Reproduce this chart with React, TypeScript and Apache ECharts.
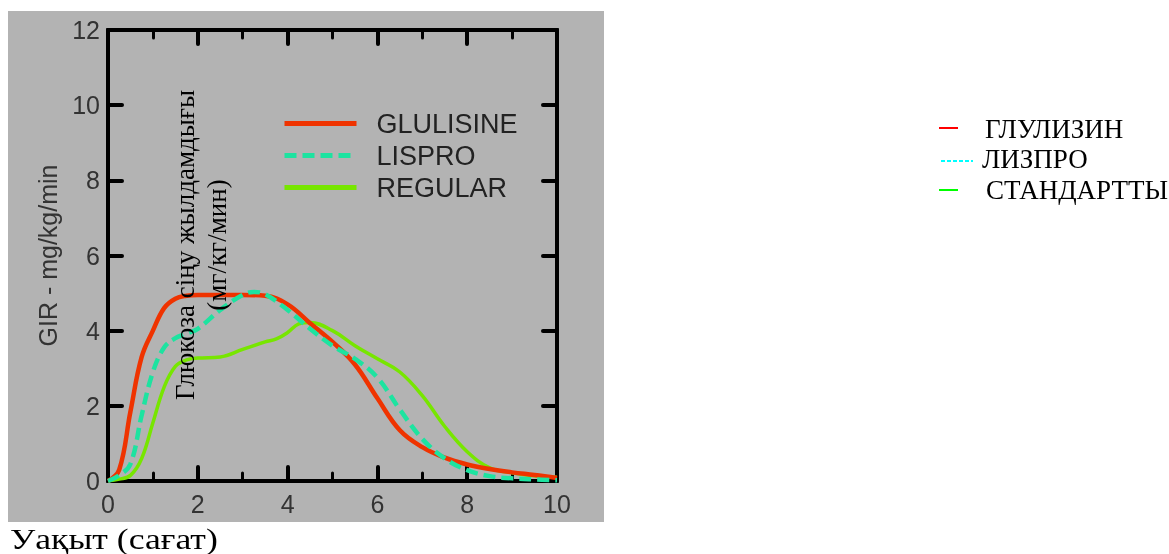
import React, { useEffect, useRef } from "react";
import * as echarts from "echarts";

const seriesNames = ["GLULISINE", "LISPRO", "REGULAR"];
const legendNamesKz = ["ГЛУЛИЗИН", "ЛИЗПРО", "СТАНДАРТТЫ"];
const xTicks = [0, 2, 4, 6, 8, 10];
const yTicks = [0, 2, 4, 6, 8, 10, 12];

const glulisineHours = [0, 0.25, 0.5, 0.75, 1, 1.25, 1.5, 1.75, 2, 2.5, 3, 3.5, 4, 4.5, 5, 5.5, 6, 6.5, 7, 7.5, 8, 8.5, 9, 9.5, 10];
const glulisineGIR = [0, 0.3, 1.85, 3.3, 4.0, 4.6, 4.85, 4.93, 4.95, 4.95, 4.95, 4.93, 4.7, 4.2, 3.7, 3.1, 2.2, 1.35, 0.9, 0.62, 0.44, 0.32, 0.23, 0.16, 0.08];

const lisproHours = [0, 0.25, 0.5, 0.75, 1, 1.25, 1.5, 1.75, 2, 2.5, 3, 3.25, 3.5, 4, 4.5, 5, 5.5, 6, 6.5, 7, 7.5, 8, 8.5, 9, 9.5, 10];
const lisproGIR = [0, 0.15, 0.45, 1.75, 2.9, 3.55, 3.8, 3.92, 4.05, 4.55, 4.95, 5.03, 4.97, 4.55, 4.05, 3.6, 3.25, 2.75, 1.9, 1.12, 0.6, 0.29, 0.13, 0.07, 0.04, 0.02];

const regularHours = [0, 0.25, 0.5, 0.75, 1, 1.25, 1.5, 1.75, 2, 2.5, 3, 3.5, 3.75, 4, 4.25, 4.5, 5, 5.5, 6, 6.5, 7, 7.5, 8, 8.5, 9, 9.5, 10];
const regularGIR = [0, 0.05, 0.15, 0.6, 1.55, 2.5, 3.05, 3.22, 3.27, 3.3, 3.5, 3.7, 3.78, 3.95, 4.18, 4.22, 4.0, 3.6, 3.25, 2.9, 2.27, 1.45, 0.78, 0.35, 0.22, 0.14, 0.1];

const yAxisName = "GIR - mg/kg/min";
const overlayLines = ["Глюкоза сіңу жылдамдығы", "(мг/кг/мин)"];
const xAxisTitle = "Уақыт (сағат)";

const pairs = (xs: number[], ys: number[]) => xs.map((x, i) => [x, ys[i]]);

export default function App() {
  const ref = useRef<HTMLDivElement>(null);
  useEffect(() => {
    if (!ref.current) return;
    const chart = echarts.init(ref.current, undefined, { renderer: "svg" });
    const sans = "'Liberation Sans', Arial, sans-serif";
    const serif = "'Liberation Serif', 'Times New Roman', serif";
    const axisCommonX = {
      type: "value",
      min: xTicks[0],
      max: xTicks[xTicks.length - 1],
      interval: 2,
      axisLine: { show: true, onZero: false, lineStyle: { color: "#000", width: 4 } },
      axisTick: { show: true, inside: true, length: 14, lineStyle: { color: "#000", width: 4, cap: "round" } },
      minorTick: { show: true, splitNumber: 2, length: 8, lineStyle: { color: "#000", width: 3, cap: "round" } },
      splitLine: { show: false },
      minorSplitLine: { show: false },
    };
    const axisCommonY = {
      type: "value",
      min: yTicks[0],
      max: yTicks[yTicks.length - 1],
      interval: 2,
      axisLine: { show: true, onZero: false, lineStyle: { color: "#000", width: 4 } },
      axisTick: { show: true, inside: true, length: 14, lineStyle: { color: "#000", width: 4, cap: "round" } },
      splitLine: { show: false },
    };
    const colors = ["#ef3300", "#1de3a0", "#77e600"];
    const legendColorsKz = ["#ff0000", "#00ffff", "#00ff00"];
    const kzLines = [
      { x1: 939, x2: 958, y: 128, dash: null },
      { x1: 941, x2: 973, y: 161, dash: [4, 2] },
      { x1: 939, x2: 958, y: 190, dash: null },
    ];
    const kzText = [
      { x: 985, y: 129 },
      { x: 982, y: 159 },
      { x: 986, y: 190 },
    ];
    chart.setOption({
      animation: false,
      grid: { left: 108, right: 612, top: 30, bottom: 73 },
      xAxis: [
        {
          ...axisCommonX,
          position: "bottom",
          axisLabel: { show: true, fontSize: 25, color: "#333", fontFamily: sans, margin: 10 },
        },
        { ...axisCommonX, position: "top", axisLabel: { show: false } },
      ],
      yAxis: [
        {
          ...axisCommonY,
          position: "left",
          axisLabel: { show: true, fontSize: 25, color: "#333", fontFamily: sans, margin: 8 },
          name: yAxisName,
          nameLocation: "middle",
          nameGap: 48,
          nameTextStyle: { fontSize: 25, color: "#333", fontFamily: sans },
        },
        { ...axisCommonY, position: "right", axisLabel: { show: false } },
      ],
      legend: {
        left: 277,
        top: 105,
        orient: "vertical",
        itemWidth: 72,
        itemHeight: 8,
        itemGap: 5,
        itemStyle: { opacity: 0 },
        lineStyle: { width: 5 },
        textStyle: { fontSize: 27, color: "#222", fontFamily: sans, padding: [0, 0, 0, 15] },
        data: seriesNames,
      },
      series: [
        {
          name: seriesNames[0],
          type: "line",
          data: pairs(glulisineHours, glulisineGIR),
          smooth: 0.4,
          showSymbol: false,
          symbol: "none",
          z: 3,
          lineStyle: { color: colors[0], width: 4.5 },
          itemStyle: { color: colors[0] },
        },
        {
          name: seriesNames[1],
          type: "line",
          data: pairs(lisproHours, lisproGIR),
          smooth: 0.4,
          showSymbol: false,
          symbol: "none",
          z: 4,
          lineStyle: { color: colors[1], width: 4.5, type: [12, 6] },
          itemStyle: { color: colors[1] },
        },
        {
          name: seriesNames[2],
          type: "line",
          data: pairs(regularHours, regularGIR),
          smooth: 0.4,
          showSymbol: false,
          symbol: "none",
          z: 2,
          lineStyle: { color: colors[2], width: 3.5 },
          itemStyle: { color: colors[2] },
        },
      ],
      graphic: [
        {
          type: "rect",
          z: -100,
          shape: { x: 8, y: 11, width: 596, height: 511 },
          style: { fill: "#b3b3b3" },
          silent: true,
        },
        {
          type: "text",
          z: 100,
          x: 201,
          y: 245,
          rotation: Math.PI / 2,
          style: {
            text: overlayLines.join("\n"),
            font: `27px ${serif}`,
            fill: "#000",
            align: "center",
            verticalAlign: "middle",
            lineHeight: 32,
          },
        },
        ...kzLines.map((l, i) => ({
          type: "line",
          z: 10,
          shape: { x1: l.x1, y1: l.y, x2: l.x2, y2: l.y },
          style: { stroke: legendColorsKz[i], lineWidth: 2, lineDash: l.dash || undefined },
        })),
        ...kzText.map((t, i) => ({
          type: "text",
          z: 10,
          x: t.x,
          y: t.y,
          style: {
            text: legendNamesKz[i],
            font: `27px ${serif}`,
            fill: "#000",
            align: "left",
            verticalAlign: "middle",
          },
        })),
        {
          type: "text",
          z: 10,
          x: 10,
          y: 539,
          scaleX: 1.23,
          style: {
            text: xAxisTitle,
            font: `29px ${serif}`,
            fill: "#000",
            align: "left",
            verticalAlign: "middle",
          },
        },
      ],
    });
    return () => chart.dispose();
  }, []);
  return (
    <div
      ref={ref}
      style={{ position: "fixed", left: 0, top: 0, width: 1169, height: 554 }}
    />
  );
}
